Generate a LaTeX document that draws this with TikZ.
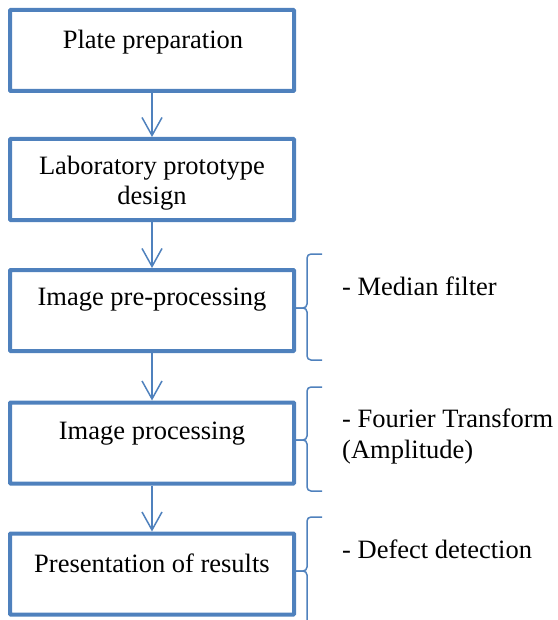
\documentclass[tikz,border=0pt]{standalone}
\usepackage{fontspec}
\setmainfont{Liberation Serif}
\usetikzlibrary{arrows.meta}
\definecolor{obl}{HTML}{4F81BD}
\tikzset{
  stepbox/.style={draw=obl, line width=4pt, minimum width=284pt, minimum height=81pt, inner sep=0pt, rounded corners=0.8pt},
  boxtext/.style={font=\fontsize{26.5}{30}\selectfont, align=center, inner sep=0pt},
  sidetext/.style={font=\fontsize{26.5}{31}\selectfont, align=left, inner sep=0pt, anchor=west},
  arr/.style={draw=obl, line width=1.5pt, -{Straight Barb[length=18pt,width=20pt,line width=1.5pt]}},
  brace/.style={draw=obl, line width=1.5pt, rounded corners=4pt}
}
\begin{document}
\begin{tikzpicture}[x=1pt,y=-1pt]
\useasboundingbox (0,0) rectangle (557,620);
\node[stepbox] (b1) at (152,50.5) {};
\node[stepbox] (b2) at (152,179.5) {};
\node[stepbox] (b3) at (152,310.5) {};
\node[stepbox] (b4) at (152,443) {};
\node[stepbox] (b5) at (152,574) {};
\node[boxtext] (t1) at (153,42) {Plate preparation};
\node[boxtext] (t2) at (152,183) {Laboratory prototype\\design};
\node[boxtext] (t3) at (152,300) {Image pre-processing};
\node[boxtext] (t4) at (152,434) {Image processing};
\node[boxtext] (t5) at (152,563) {Presentation of results};
\draw[arr] (b1.south) -- (b2.north);
\draw[arr] (b2.south) -- (b3.north);
\draw[arr] (b3.south) -- (b4.north);
\draw[arr] (b4.south) -- (b5.north);
% braces
\coordinate (m1) at (296,308);
\coordinate (m2) at (296,440);
\coordinate (m3) at (296,571);
\draw[brace] (322,254) -- (307,254) -- (307,308) -- (m1);
\draw[brace] (322,360) -- (307,360) -- (307,308) -- (m1);
\draw[brace] (322,387) -- (307,387) -- (307,440) -- (m2);
\draw[brace] (322,491) -- (307,491) -- (307,440) -- (m2);
\draw[brace] (322,517) -- (307,517) -- (307,571) -- (m3);
\draw[brace] (307,622) -- (307,571) -- (m3);
\node[sidetext] (s1) at (342,286) {- Median filter};
\node[sidetext] (s2) at (342,436.5) {- Fourier Transform\\(Amplitude)};
\node[sidetext] (s3) at (342,549) {- Defect detection};
\end{tikzpicture}
\end{document}
